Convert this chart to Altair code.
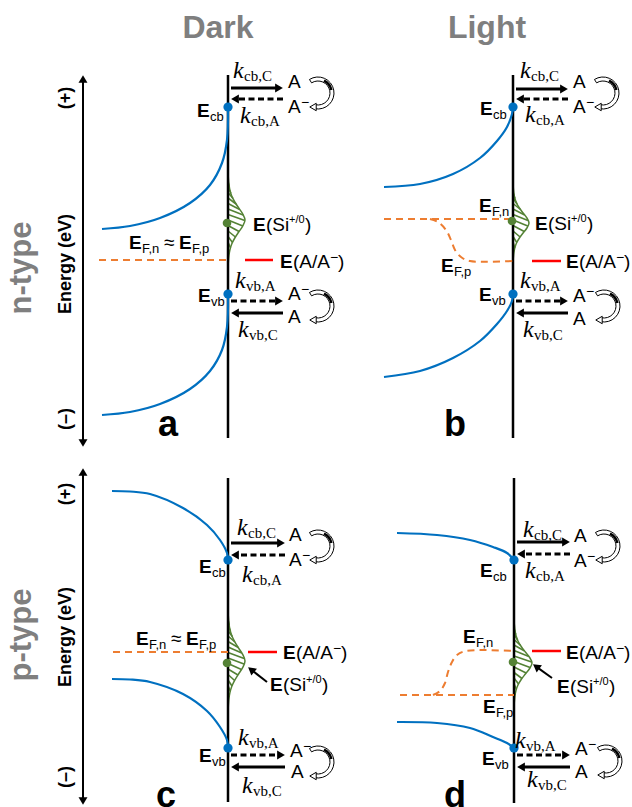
import altair as alt
import pandas as pd
import numpy as np

W, H = 632, 807
SANS = "Liberation Sans"
SERIF = "Liberation Serif"
BLUE = "#0070C0"
GREEN = "#548235"
ORANGE = "#ED7D31"
RED = "#FF0000"
GRAY = "#7F7F7F"

# ---------------- diagram values (figure pixel frame) ----------------
panels = ["a", "b", "c", "d"]
surface_x = {"a": 228, "b": 513, "c": 228, "d": 514}
surface_span = {"a": (75, 438), "b": (75, 438), "c": (478, 802), "d": (478, 803)}
energy_axis = {"a": (83, 75, 447), "c": (83, 468, 805)}

ecb_y = {"a": 107, "b": 107, "c": 560, "d": 560}
evb_y = {"a": 294, "b": 294, "c": 748, "d": 748}

# band edges (bulk -> surface)
cb_x = {"a": [102, 130, 160, 190, 210, 222, 227, 228],
        "b": [384, 420, 453, 480, 497, 507, 512, 513],
        "c": [112, 130, 150, 183, 207, 220, 227, 228],
        "d": [397, 437, 470, 493, 507, 514]}
cb_y = {"a": [229, 226, 218, 203, 185, 163, 140, 107],
        "b": [187, 184, 174, 158, 141, 127, 114, 107],
        "c": [491, 491.5, 494, 508, 525, 540, 553, 560],
        "d": [533, 535, 540, 547, 553, 560]}
vb_x = {"a": [102, 130, 160, 190, 210, 222, 227, 228],
        "b": [384, 420, 453, 480, 497, 507, 512, 513],
        "c": [112, 130, 150, 183, 207, 220, 227, 228],
        "d": [397, 437, 470, 493, 507, 514]}
vb_y = {"a": [415, 412, 404, 389, 371, 350, 327, 294],
        "b": [377, 371, 358, 341, 324, 311, 301, 294],
        "c": [679, 679.5, 682, 694, 711, 727, 740, 748],
        "d": [722, 723, 728, 737, 743, 748]}

# quasi-Fermi levels
ef_paths = {
    "a0": ([99, 228], [260, 260]),
    "b_n": ([384, 513], [219, 219]),
    "b_p": ([430, 438, 446, 451, 455, 461, 470, 513], [219, 222, 230, 240, 250, 257, 261, 261]),
    "c0": ([113, 228], [652, 652]),
    "d_p": ([400, 514], [695, 695]),
    "d_n": ([433, 440, 445, 448, 452, 457, 466, 514], [695, 691, 683, 672, 662, 655, 651, 651]),
}

# redox level E(A/A-)
redox_x = {"a": (245, 273), "b": (532, 561), "c": (248, 277), "d": (532, 561)}
redox_y = {"a": 260, "b": 261, "c": 652, "d": 651}

# surface-state distribution (Si+/0): centre, half height, peak width
si_dot_y = {"a": 223, "b": 221, "c": 663, "d": 662}
gauss_c = {"a": 220, "b": 223, "c": 661, "d": 663}
gauss_half = {"a": 48, "b": 40, "c": 51, "d": 44}
gauss_peak = {"a": 17, "b": 16, "c": 17, "d": 18}
gauss_u = [-1.0, -0.875, -0.75, -0.625, -0.5, -0.375, -0.25, -0.125, 0.0,
           0.125, 0.25, 0.375, 0.5, 0.625, 0.75, 0.875, 1.0]
gauss_v = [0.0, 0.02, 0.05, 0.11, 0.22, 0.40, 0.63, 0.87, 1.0,
           0.87, 0.63, 0.40, 0.22, 0.11, 0.05, 0.02, 0.0]

# rate arrows: (from x, to x, y, dashed)
rate_arrows = {
    "a": [(231, 283, 88, 0), (283, 231, 99, 1), (231, 283, 301, 1), (283, 231, 313, 0)],
    "b": [(516, 568, 89, 0), (568, 516, 99, 1), (516, 568, 301, 1), (568, 516, 313, 0)],
    "c": [(231, 285, 543, 0), (285, 231, 555, 1), (231, 285, 755, 1), (285, 231, 767, 0)],
    "d": [(517, 570, 542, 0), (570, 517, 554, 1), (517, 570, 755, 1), (570, 517, 767, 0)],
}
# curved (cycling) arrows: centres
cycle_x = [318, 318, 603, 604, 318, 318, 604, 606]
cycle_y = [93, 306, 93, 306, 546, 762, 546, 761]

# pointer arrows to E(Si+/0) in p-type panels: (tail x, tail y, head x, head y, angle)
pointers = [(267, 682, 249, 668, 309), (552, 678, 534, 665, 306)]

# ---------------- texts ----------------
titles = [("Dark", 218, 38), ("Light", 487, 38)]
types = [("n-type", 31, 268), ("p-type", 31, 635)]
axis_labels = [("(+)", 71, 98), ("Energy (eV)", 71, 264), ("(\u2013)", 71, 419),
               ("(+)", 71, 494), ("Energy (eV)", 71, 637), ("(\u2013)", 71, 777)]
letters = [("a", 168, 436), ("b", 455, 436), ("c", 166, 807), ("d", 455, 807)]

# E with subscript: (sub text, E x, baseline y)
e_subs = [("cb", 197, 117), ("vb", 198, 302), ("F,n", 129, 249), ("F,p", 179, 249),
          ("cb", 480, 115), ("vb", 479, 301), ("F,n", 479, 212), ("F,p", 441, 272),
          ("cb", 199, 573), ("vb", 199, 762), ("F,n", 136, 645), ("F,p", 186, 645),
          ("cb", 480, 577), ("vb", 482, 765), ("F,n", 463, 643), ("F,p", 483, 713)]
approx_signs = [("\u2248", 164, 249), ("\u2248", 171, 645)]
si_labels = [(253, 231), (535, 230), (270, 691), (557, 693)]
redox_labels = [(280, 268), (566, 268), (283, 659), (566, 659)]
species = [("A", 288, 88), ("A-", 288, 113), ("A-", 288, 300), ("A", 288, 323),
           ("A", 573, 88), ("A-", 573, 113), ("A-", 573, 302), ("A", 573, 325),
           ("A", 289, 541), ("A-", 289, 566), ("A-", 290, 757), ("A", 291, 778),
           ("A", 574, 542), ("A-", 574, 567), ("A-", 575, 755), ("A", 575, 778)]
k_labels = [("cb,C", 233, 78), ("cb,A", 240, 123), ("vb,A", 235, 288), ("vb,C", 238, 337),
            ("cb,C", 520, 78), ("cb,A", 525, 122), ("vb,A", 520, 288), ("vb,C", 523, 337),
            ("cb,C", 237, 535), ("cb,A", 242, 582), ("vb,A", 238, 745), ("vb,C", 242, 793),
            ("cb,C", 523, 537), ("cb,A", 525, 578), ("vb,A", 515, 748), ("vb,C", 527, 787)]

# ---------------- build tables ----------------
X = alt.X("x:Q", scale=alt.Scale(domain=[0, W], nice=False, zero=False), axis=None)
Y = alt.Y("y:Q", scale=alt.Scale(domain=[0, H], nice=False, zero=False, reverse=True), axis=None)

rows = []


def add_path(kind, pid, xs, ys):
    for i, (xx, yy) in enumerate(zip(xs, ys)):
        rows.append({"kind": kind, "path": pid, "seq": i, "x": xx, "y": yy})


for p in panels:
    sx = surface_x[p]
    add_path("surface", "s" + p, [sx, sx], list(surface_span[p]))
    add_path("band", "cb" + p, cb_x[p], cb_y[p])
    add_path("band", "vb" + p, vb_x[p], vb_y[p])
    add_path("redox", "r" + p, list(redox_x[p]), [redox_y[p], redox_y[p]])
    # gaussian outline
    gy = [gauss_c[p] + u * gauss_half[p] for u in gauss_u]
    gx = [sx + v * gauss_peak[p] for v in gauss_v]
    add_path("gauss", "g" + p, gx, gy)
    # hatching
    y0 = gauss_c[p] - gauss_half[p] + 4
    k = 0
    while y0 < gauss_c[p] + gauss_half[p] - 8:
        y1 = y0 + 6
        x1 = float(np.interp(y1, gy, gx))
        if x1 - sx > 1.0:
            add_path("hatch", f"h{p}{k}", [sx, x1], [y0, y1])
        y0 += 5.5
        k += 1
    # rate arrows shafts
    for j, (xf, xt, yy, dashed) in enumerate(rate_arrows[p]):
        sgn = 1 if xt > xf else -1
        add_path("rate_dash" if dashed else "rate_solid", f"k{p}{j}", [xf, xt - sgn * 6], [yy, yy])

for key, (xs, ys) in ef_paths.items():
    add_path("ef", "ef" + key, xs, ys)

for key, (ax, y0, y1) in energy_axis.items():
    add_path("axis", "ax" + key, [ax, ax], [y0 + 6, y1 - 6])

for j, (tx, ty, hx, hy, ang) in enumerate(pointers):
    add_path("pointer", f"pt{j}", [tx, hx + (tx - hx) * 0.2], [ty, hy + (ty - hy) * 0.2])

paths = pd.DataFrame(rows)


def path_layer(kind, color, width, dash=None, interp="linear"):
    kw = dict(color=color, strokeWidth=width, interpolate=interp)
    if dash:
        kw["strokeDash"] = dash
    return alt.Chart(paths).transform_filter(alt.datum.kind == kind).mark_line(**kw).encode(
        x=X, y=Y, detail="path:N", order="seq:Q")


layers = [
    path_layer("hatch", GREEN, 1.6),
    path_layer("gauss", GREEN, 1.5, interp="cardinal"),
    path_layer("surface", "black", 2.5),
    path_layer("axis", "black", 2),
    path_layer("band", BLUE, 2.2, interp="catmull-rom"),
    path_layer("ef", ORANGE, 2, dash=[7, 5], interp="catmull-rom"),
    path_layer("redox", RED, 2.5),
    path_layer("rate_solid", "black", 3),
    path_layer("rate_dash", "black", 3, dash=[6, 3.5]),
    path_layer("pointer", "black", 2),
]

# arrow heads
heads = []
for p in panels:
    for (xf, xt, yy, dashed) in rate_arrows[p]:
        sgn = 1 if xt > xf else -1
        heads.append({"x": xt - sgn * 4, "y": yy, "shape": "triangle-right" if sgn > 0 else "triangle-left", "ang": 0})
for key, (ax, y0, y1) in energy_axis.items():
    heads.append({"x": ax, "y": y0 + 4, "shape": "triangle-up", "ang": 0})
    heads.append({"x": ax, "y": y1 - 4, "shape": "triangle-down", "ang": 0})
for (tx, ty, hx, hy, ang) in pointers:
    heads.append({"x": hx + (tx - hx) * 0.12, "y": hy + (ty - hy) * 0.12, "shape": "triangle-up", "ang": ang})
heads_df = pd.DataFrame(heads)
for shp in ["triangle-right", "triangle-left", "triangle-up", "triangle-down"]:
    layers.append(alt.Chart(heads_df).transform_filter(alt.datum.shape == shp).mark_point(
        shape=shp, filled=True, color="black", size=80, opacity=1).encode(
        x=X, y=Y, angle=alt.Angle("ang:Q", scale=None)))

# cycling arrows
cyc = pd.DataFrame({"x": cycle_x, "y": cycle_y})
layers.append(alt.Chart(cyc).mark_arc(theta=5.72, theta2=9.62, radius=16, radius2=12,
                                      fill="white", stroke="black", strokeWidth=1).encode(x=X, y=Y))
layers.append(alt.Chart(cyc).mark_arc(theta=0.45, theta2=1.35, radius=15, radius2=12.5,
                                      fill="black", strokeWidth=0).encode(x=X, y=Y))
cyc_head = pd.DataFrame({"x": [v - 5 for v in cycle_x], "y": [v + 14 for v in cycle_y]})
layers.append(alt.Chart(cyc_head).mark_point(shape="triangle-left", filled=True, fill="white",
                                             stroke="black", strokeWidth=1, size=55, opacity=1).encode(x=X, y=Y))

# dots
dots = []
for p in panels:
    dots.append({"x": surface_x[p], "y": ecb_y[p], "c": "band"})
    dots.append({"x": surface_x[p], "y": evb_y[p], "c": "band"})
    dots.append({"x": surface_x[p] - 1, "y": si_dot_y[p], "c": "si"})
dots_df = pd.DataFrame(dots)
layers.append(alt.Chart(dots_df).transform_filter(alt.datum.c == "band").mark_circle(
    color=BLUE, size=85, opacity=1).encode(x=X, y=Y))
layers.append(alt.Chart(dots_df).transform_filter(alt.datum.c == "si").mark_circle(
    color=GREEN, size=75, opacity=1).encode(x=X, y=Y))


def text_layer(items, size, weight="normal", style="normal", font=SANS, color="black",
               align="left", angle=0):
    df = pd.DataFrame(items, columns=["label", "x", "y"])
    return alt.Chart(df).mark_text(fontSize=size, fontWeight=weight, fontStyle=style, font=font,
                                   color=color, align=align, baseline="alphabetic",
                                   angle=angle).encode(x=X, y=Y, text="label:N")


bold_E, subs, regs, sups = [], [], [], []
for (s, ex, ey) in e_subs:
    bold_E.append(("E", ex, ey))
    subs.append((s, ex + 13, ey + 4))
for (ex, ey) in si_labels:
    bold_E.append(("E", ex, ey))
    regs.append(("(Si", ex + 13, ey))
    sups.append(("+/0", ex + 36, ey - 8))
    regs.append((")", ex + 52, ey))
for (ex, ey) in redox_labels:
    bold_E.append(("E", ex, ey))
    regs.append(("(A/A", ex + 13, ey))
    regs.append((")", ex + 58, ey))
minus = [(ex + 50, ey - 6) for (ex, ey) in redox_labels]
for (s, sx_, sy_) in species:
    regs.append(("A", sx_, sy_))
    if s == "A-":
        minus.append((sx_ + 13, sy_ - 6))
for (s, ax_, ay_) in approx_signs:
    regs.append((s, ax_, ay_))

layers += [
    text_layer(titles, 32, weight="bold", color=GRAY, align="center"),
    text_layer(types, 31, weight="bold", color=GRAY, align="center", angle=270),
    text_layer(axis_labels, 18, weight="bold", align="center", angle=270),
    text_layer(letters, 36, weight="bold", align="center"),
    text_layer(bold_E, 19, weight="bold"),
    text_layer(subs, 13),
    text_layer(regs, 19),
    text_layer(sups, 11),
    text_layer([("\u2212", mx, my) for (mx, my) in minus], 14),
    text_layer([("k", kx, ky) for (s, kx, ky) in k_labels], 24, style="italic", font=SERIF),
    text_layer([(s, kx + 11, ky + 3) for (s, kx, ky) in k_labels], 15, font=SERIF),
]

chart = alt.layer(*layers).properties(
    width=W, height=H, padding=0, autosize=alt.AutoSizeParams(type="none"), background="white"
).configure_view(stroke=None)

chart.save("out.html", embed_options={"renderer": "svg", "actions": False})
